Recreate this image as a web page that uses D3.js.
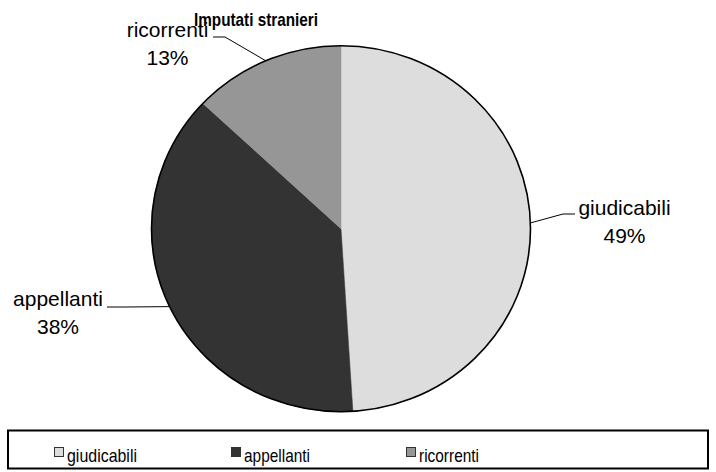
<!DOCTYPE html>
<html>
<head>
<meta charset="utf-8">
<script src="https://cdn.jsdelivr.net/npm/d3@7"></script>
<style>
  html, body { margin: 0; padding: 0; background: #fff; }
  svg { display: block; font-family: "Liberation Sans", Arial, sans-serif; }
</style>
</head>
<body>
<svg id="chart" width="716" height="472"></svg>
<script>
// ---- data ----
const title = "Imputati stranieri";
const categories = ["giudicabili", "appellanti", "ricorrenti"];
const values = [49, 38, 13];
const percentLabels = ["49%", "38%", "13%"];
const colors = ["#dddddd", "#333333", "#969696"];

// ---- layout ----
const cx = 341, cy = 228.7, rx = 189.5, ry = 183;
const svg = d3.select("#chart");

// title (narrow bold face)
svg.append("text")
  .attr("x", 256).attr("y", 26)
  .attr("text-anchor", "middle")
  .attr("font-size", 19).attr("font-weight", "bold")
  .attr("textLength", 124).attr("lengthAdjust", "spacingAndGlyphs")
  .text(title);

const pie = d3.pie().sort(null).value(d => d)(values);
const arc = d3.arc().innerRadius(0).outerRadius(ry);

const g = svg.append("g").attr("transform", `translate(${cx},${cy}) scale(${rx/ry},1)`);
g.selectAll("path.slice").data(pie).join("path")
  .attr("class", "slice")
  .attr("d", arc)
  .attr("fill", (d, i) => colors[i])
  .attr("stroke", (d, i) => colors[i])
  .attr("stroke-width", 0.5);

svg.append("ellipse")
  .attr("cx", cx).attr("cy", cy).attr("rx", rx).attr("ry", ry)
  .attr("fill", "none").attr("stroke", "#000").attr("stroke-width", 1.6);

// leader lines + labels
const labelPos = [
  { x: 624.5, y: 215, elbow: [563, 214], end: [575, 214] },
  { x: 58,    y: 306, elbow: [125, 307], end: [107, 307] },
  { x: 167.5, y: 36.5, elbow: [225, 37], end: [213, 37] }
];
pie.forEach((d, i) => {
  const a = (d.startAngle + d.endAngle) / 2;
  const px = cx + rx * Math.sin(a), py = cy - ry * Math.cos(a);
  const lp = labelPos[i];
  svg.append("path")
    .attr("d", d3.line()([[px, py], lp.elbow, lp.end]))
    .attr("fill", "none").attr("stroke", "#000").attr("stroke-width", 1);
  const t = svg.append("text").attr("text-anchor", "middle").attr("font-size", 21).attr("fill", "#000");
  t.append("tspan").attr("x", lp.x).attr("y", lp.y).text(categories[i]);
  t.append("tspan").attr("x", lp.x).attr("y", lp.y + 28).text(percentLabels[i]);
});

// legend
svg.append("rect")
  .attr("x", 8).attr("y", 430.5).attr("width", 700).attr("height", 38)
  .attr("fill", "#fff").attr("stroke", "#000").attr("stroke-width", 2);
const legendX = [54, 231, 406];
const legendW = [70, 66, 60];
categories.forEach((c, i) => {
  svg.append("rect")
    .attr("x", legendX[i] + 0.5).attr("y", 447.5).attr("width", 9).attr("height", 9)
    .attr("fill", colors[i]).attr("stroke", "#333").attr("stroke-width", 1);
  svg.append("text")
    .attr("x", legendX[i] + 13).attr("y", 462)
    .attr("font-size", 19)
    .attr("textLength", legendW[i]).attr("lengthAdjust", "spacingAndGlyphs")
    .text(c);
});
</script>
</body>
</html>
